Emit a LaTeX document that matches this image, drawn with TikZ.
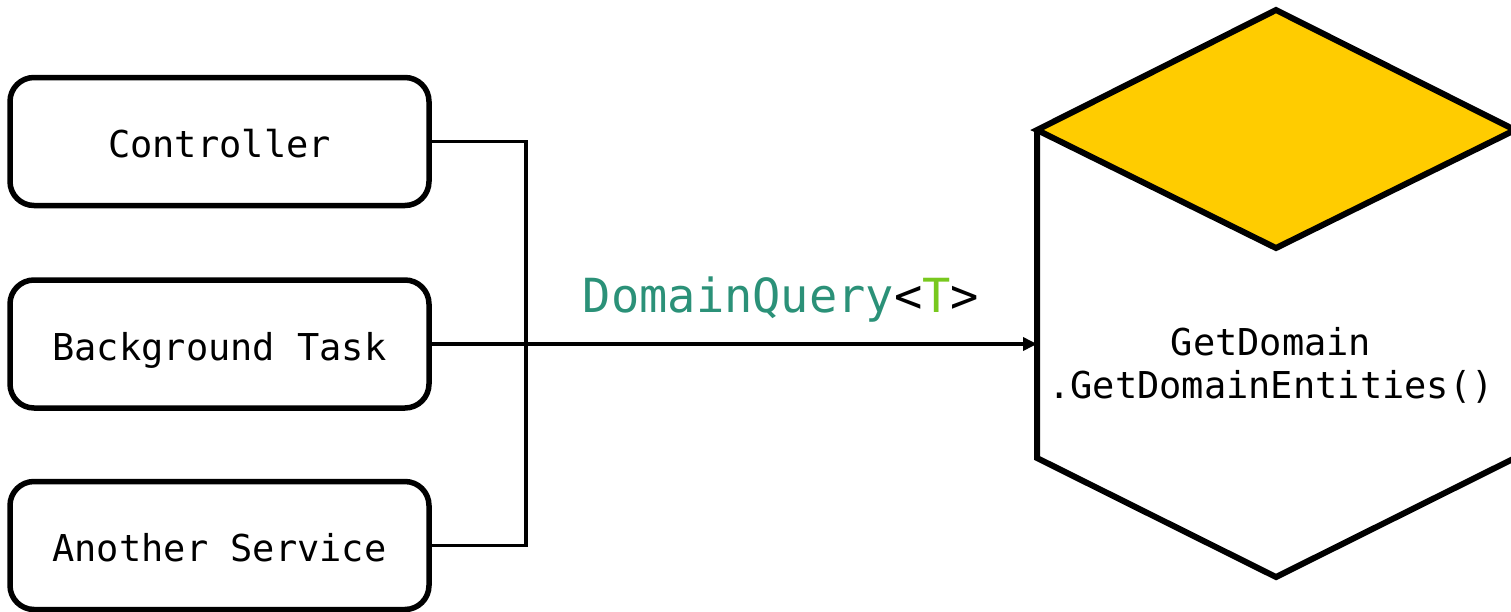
\documentclass[tikz,border=0pt]{standalone}
\usepackage{fontspec}
\setmonofont{DejaVu Sans Mono}
\usetikzlibrary{arrows.meta}
\definecolor{teal2}{RGB}{43,145,120}
\definecolor{lime2}{RGB}{120,200,30}
\definecolor{gold2}{RGB}{255,204,0}
\tikzset{
  srcbox/.style={draw=black, line width=5.5pt, rounded corners=24pt, minimum width=419pt, minimum height=128pt, inner sep=0pt, text height=32pt, text depth=0pt, font=\ttfamily\fontsize{37}{44}\selectfont},
  wire/.style={draw=black, line width=3.5pt},
  cubeedge/.style={draw=black, line width=6pt, line join=miter},
}
\begin{document}
\begin{tikzpicture}[x=1pt,y=-1pt]
\useasboundingbox (0,0) rectangle (1511,611);
\begin{scope}
\clip (0,0) rectangle (1511,611);
% cube
\coordinate (ct) at (1276,10);
\coordinate (cl) at (1037,130);
\coordinate (cr) at (1515,130);
\coordinate (cm) at (1276,248);
\coordinate (clb) at (1037,458);
\coordinate (crb) at (1515,458);
\coordinate (cb) at (1276,577);
\fill[white] (cl) -- (cm) -- (cr) -- (crb) -- (cb) -- (clb) -- cycle;
\filldraw[fill=gold2, cubeedge] (ct) -- (cr) -- (cm) -- (cl) -- cycle;
\draw[cubeedge] (cl) -- (clb) -- (cb) -- (crb) -- (cr);
\end{scope}
\node[font=\ttfamily\fontsize{37}{44}\selectfont, align=center, inner sep=0pt] (gd) at (1271,365) {GetDomain\\[-1pt].GetDomainEntities()};
\coordinate (cubein) at (1037,344);

% source boxes
\node[srcbox] (ctrl) at (219.5,141.5) {Controller};
\node[srcbox] (bg) at (219.5,344) {Background Task};
\node[srcbox] (as) at (219.5,545.5) {Another Service};

\coordinate (j1) at (526,141.5);
\coordinate (j3) at (526,545.5);
\draw[wire] (ctrl.east) -- (j1) -- (j3) -- (as.east);
\draw[wire, -{Triangle[length=14pt,width=13pt]}] (bg.east) -- (cubein);

\node[font=\ttfamily\fontsize{47}{56}\selectfont, inner sep=0pt, anchor=base] (lbl) at (781,312) {\textcolor{teal2}{DomainQuery}<\textcolor{lime2}{T}>};
\end{tikzpicture}
\end{document}
